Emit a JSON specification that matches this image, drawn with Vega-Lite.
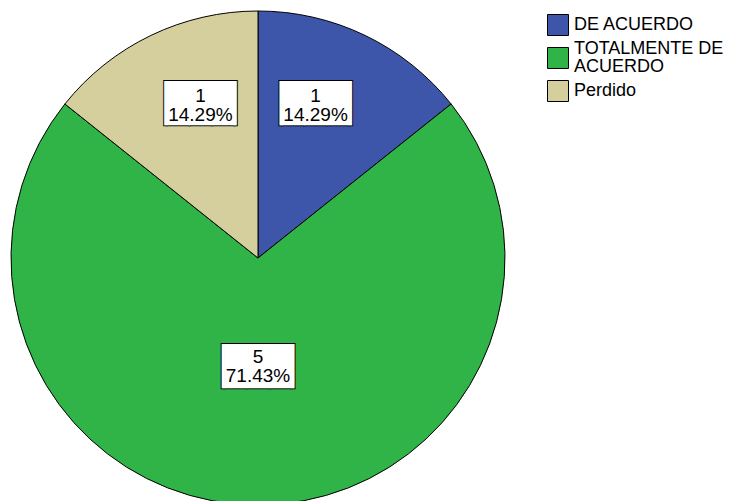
{
  "$schema": "https://vega.github.io/schema/vega-lite/v6.json",
  "width": 516,
  "height": 516,
  "autosize": "none",
  "padding": {"left": 0, "top": 0, "right": 216, "bottom": 0},
  "background": "white",
  "config": {"view": {"stroke": null}},
  "data": {
    "values": [
      {"categoria": "DE ACUERDO", "orden": 1, "n": 1, "pct": "14.29%"},
      {"categoria": "TOTALMENTE DE ACUERDO", "orden": 2, "n": 5, "pct": "71.43%"},
      {"categoria": "Perdido", "orden": 3, "n": 1, "pct": "14.29%"}
    ]
  },
  "encoding": {
    "theta": {"field": "n", "type": "quantitative", "stack": true},
    "order": {"field": "orden", "type": "ordinal"}
  },
  "layer": [
    {
      "mark": {"type": "arc", "outerRadius": 247, "stroke": "black", "strokeWidth": 1},
      "encoding": {
        "color": {
          "field": "categoria",
          "type": "nominal",
          "sort": ["DE ACUERDO", "TOTALMENTE DE ACUERDO", "Perdido"],
          "scale": {
            "domain": ["DE ACUERDO", "TOTALMENTE DE ACUERDO", "Perdido"],
            "range": ["#3D56A9", "#30B448", "#D5CF9E"]
          },
          "legend": {
            "title": null,
            "orient": "none",
            "legendX": 547,
            "legendY": 14,
            "padding": 0,
            "symbolType": "square",
            "symbolSize": 441,
            "symbolStrokeColor": "black",
            "symbolStrokeWidth": 1,
            "symbolOpacity": 1,
            "labelFont": "Liberation Sans",
            "labelFontSize": 18,
            "labelColor": "black",
            "labelLimit": 300,
            "labelOffset": 5,
            "rowPadding": 2,
            "labelExpr": "datum.label == 'TOTALMENTE DE ACUERDO' ? ['TOTALMENTE DE', 'ACUERDO'] : datum.label",
            "encode": {"labels": {"update": {
              "lineHeight": {"value": 18},
              "dy": [{"test": "datum.value == 'TOTALMENTE DE ACUERDO'", "value": -9}, {"value": 0}]
            }}}
          }
        }
      }
    },
    {
      "mark": {"type": "text", "text": "▕███▏", "font": "DejaVu Sans Mono", "fontSize": 37.3, "fill": "black", "stroke": "black", "strokeWidth": 2, "baseline": "middle", "align": "center", "radius": 165, "dx": -14, "dy": -4},
      "encoding": {"opacity": {"condition": {"test": "datum.categoria == 'DE ACUERDO'", "value": 1}, "value": 0}}
    },
    {
      "mark": {"type": "text", "text": "▕███▏", "font": "DejaVu Sans Mono", "fontSize": 37.3, "fill": "white", "baseline": "middle", "align": "center", "radius": 165, "dx": -14, "dy": -4},
      "encoding": {"opacity": {"condition": {"test": "datum.categoria == 'DE ACUERDO'", "value": 1}, "value": 0}}
    },
    {
      "mark": {"type": "text", "font": "Liberation Sans", "fontSize": 19, "fill": "black", "baseline": "middle", "align": "center", "radius": 165, "dx": -14, "dy": -13},
      "encoding": {
        "text": {"field": "n", "type": "quantitative"},
        "opacity": {"condition": {"test": "datum.categoria == 'DE ACUERDO'", "value": 1}, "value": 0}
      }
    },
    {
      "mark": {"type": "text", "font": "Liberation Sans", "fontSize": 19, "fill": "black", "baseline": "middle", "align": "center", "radius": 165, "dx": -14, "dy": 6},
      "encoding": {
        "text": {"field": "pct", "type": "nominal"},
        "opacity": {"condition": {"test": "datum.categoria == 'DE ACUERDO'", "value": 1}, "value": 0}
      }
    },
    {
      "mark": {"type": "text", "text": "▕███▏", "font": "DejaVu Sans Mono", "fontSize": 37.3, "fill": "black", "stroke": "black", "strokeWidth": 2, "baseline": "middle", "align": "center", "radius": 165, "dx": 14, "dy": -4},
      "encoding": {"opacity": {"condition": {"test": "datum.categoria == 'Perdido'", "value": 1}, "value": 0}}
    },
    {
      "mark": {"type": "text", "text": "▕███▏", "font": "DejaVu Sans Mono", "fontSize": 37.3, "fill": "white", "baseline": "middle", "align": "center", "radius": 165, "dx": 14, "dy": -4},
      "encoding": {"opacity": {"condition": {"test": "datum.categoria == 'Perdido'", "value": 1}, "value": 0}}
    },
    {
      "mark": {"type": "text", "font": "Liberation Sans", "fontSize": 19, "fill": "black", "baseline": "middle", "align": "center", "radius": 165, "dx": 14, "dy": -13},
      "encoding": {
        "text": {"field": "n", "type": "quantitative"},
        "opacity": {"condition": {"test": "datum.categoria == 'Perdido'", "value": 1}, "value": 0}
      }
    },
    {
      "mark": {"type": "text", "font": "Liberation Sans", "fontSize": 19, "fill": "black", "baseline": "middle", "align": "center", "radius": 165, "dx": 14, "dy": 6},
      "encoding": {
        "text": {"field": "pct", "type": "nominal"},
        "opacity": {"condition": {"test": "datum.categoria == 'Perdido'", "value": 1}, "value": 0}
      }
    },
    {
      "mark": {"type": "text", "text": "▕███▏", "font": "DejaVu Sans Mono", "fontSize": 37.3, "fill": "black", "stroke": "black", "strokeWidth": 2, "baseline": "middle", "align": "center", "radius": 108, "dy": 2},
      "encoding": {"opacity": {"condition": {"test": "datum.categoria == 'TOTALMENTE DE ACUERDO'", "value": 1}, "value": 0}}
    },
    {
      "mark": {"type": "text", "text": "▕███▏", "font": "DejaVu Sans Mono", "fontSize": 37.3, "fill": "white", "baseline": "middle", "align": "center", "radius": 108, "dy": 2},
      "encoding": {"opacity": {"condition": {"test": "datum.categoria == 'TOTALMENTE DE ACUERDO'", "value": 1}, "value": 0}}
    },
    {
      "mark": {"type": "text", "font": "Liberation Sans", "fontSize": 19, "fill": "black", "baseline": "middle", "align": "center", "radius": 108, "dy": -9},
      "encoding": {
        "text": {"field": "n", "type": "quantitative"},
        "opacity": {"condition": {"test": "datum.categoria == 'TOTALMENTE DE ACUERDO'", "value": 1}, "value": 0}
      }
    },
    {
      "mark": {"type": "text", "font": "Liberation Sans", "fontSize": 19, "fill": "black", "baseline": "middle", "align": "center", "radius": 108, "dy": 10},
      "encoding": {
        "text": {"field": "pct", "type": "nominal"},
        "opacity": {"condition": {"test": "datum.categoria == 'TOTALMENTE DE ACUERDO'", "value": 1}, "value": 0}
      }
    }
  ]
}
